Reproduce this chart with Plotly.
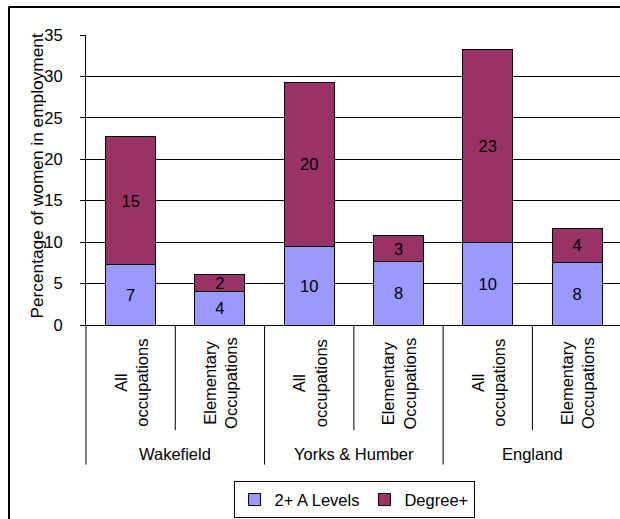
import plotly.graph_objects as go

# ---- data ----
groups = ["Wakefield", "Yorks & Humber", "England"]
occupations = ["All<br>occupations", "Elementary<br>Occupations"]
a_levels = [7.3, 4.1, 9.5, 7.7, 10.0, 7.6]
degree = [15.4, 1.95, 19.8, 3.05, 23.3, 4.05]
series_names = ["2+ A Levels", "Degree+"]
yticks = [0, 5, 10, 15, 20, 25, 30, 35]
y_title = "Percentage of women in employment"

FONT = "Arial, Liberation Sans, sans-serif"
FS = 16.5
BLUE = "#9999FF"
MAROON = "#993366"

n = len(groups) * len(occupations)
xs = list(range(n))
x_range = [-0.5, 5.481]
y_range = [0, 35]

fig = go.Figure()
for vals, name, color in [(a_levels, series_names[0], BLUE),
                          (degree, series_names[1], MAROON)]:
    fig.add_trace(go.Bar(
        x=xs, y=vals, name=name,
        marker=dict(color=color, line=dict(color="#000000", width=1)),
        text=[f"{v:.0f}" for v in vals], textposition="inside",
        insidetextanchor="middle", constraintext="none", textangle=0,
        textfont=dict(family=FONT, size=FS, color="#000000"),
        hoverinfo="skip",
    ))

W, H = 620, 519
L, R, T, B = 86, 0, 35, 189
plot_w = W - L - R
plot_h = H - T - B


def px_to_paper_y(py):
    return (H - B - py) / plot_h


def px_to_paper_x(px):
    return (px - L) / plot_w


def data_to_paper_x(xv):
    return (xv - x_range[0]) / (x_range[1] - x_range[0])


shapes = []
annotations = []

# category dividers below the axis
for i in range(n + 1):
    xb = i - 0.5
    is_group = (i % len(occupations) == 0)
    y_end = px_to_paper_y(472 if is_group else 437)
    shapes.append(dict(type="line", xref="paper", yref="paper",
                       x0=data_to_paper_x(xb), x1=data_to_paper_x(xb),
                       y0=0, y1=y_end,
                       line=dict(color="#000000", width=1)))

# occupation labels
for i in range(n):
    annotations.append(dict(
        x=i, xref="x", y=px_to_paper_y(389), yref="paper",
        text=occupations[i % len(occupations)], textangle=-90,
        showarrow=False, align="center",
        font=dict(family=FONT, size=FS, color="#000000"),
        xanchor="center", yanchor="middle"))

# group labels
for g, name in enumerate(groups):
    xc = g * len(occupations) + (len(occupations) - 1) / 2
    annotations.append(dict(
        x=xc, xref="x", y=px_to_paper_y(461.5), yref="paper",
        text=name, showarrow=False,
        font=dict(family=FONT, size=FS, color="#000000"),
        xanchor="center", yanchor="middle"))

# y axis title
annotations.append(dict(
    x=px_to_paper_x(37), xref="paper", y=px_to_paper_y(179), yref="paper",
    text=y_title, textangle=-90, showarrow=False,
    font=dict(family=FONT, size=17.3, color="#000000"),
    xanchor="center", yanchor="middle"))

# outer chart frame (top and left edges visible)
shapes.append(dict(type="line", xref="paper", yref="paper",
                   x0=px_to_paper_x(9), x1=px_to_paper_x(640),
                   y0=px_to_paper_y(6.5), y1=px_to_paper_y(6.5),
                   line=dict(color="#000000", width=2)))
shapes.append(dict(type="line", xref="paper", yref="paper",
                   x0=px_to_paper_x(9), x1=px_to_paper_x(9),
                   y0=px_to_paper_y(6), y1=px_to_paper_y(540),
                   line=dict(color="#000000", width=2)))

fig.update_layout(
    width=W, height=H,
    margin=dict(l=L, r=R, t=T, b=B, pad=0),
    barmode="stack", bargap=0.44,
    plot_bgcolor="#FFFFFF", paper_bgcolor="#FFFFFF",
    font=dict(family=FONT, size=FS, color="#000000"),
    uniformtext=dict(minsize=FS, mode="show"),
    xaxis=dict(range=x_range, showticklabels=False, ticks="",
               showgrid=False, zeroline=False, showline=True,
               linecolor="#000000", linewidth=1, fixedrange=True),
    yaxis=dict(range=y_range, tickvals=yticks, ticks="outside", ticklen=5,
               tickcolor="#000000", showline=True, linecolor="#000000",
               linewidth=1, showgrid=True, gridcolor="#000000", gridwidth=1,
               zeroline=False, ticklabelstandoff=14,
               tickfont=dict(family=FONT, size=FS, color="#000000")),
    showlegend=True,
    legend=dict(orientation="h", x=0.502, xanchor="center",
                y=px_to_paper_y(489), yanchor="top",
                bordercolor="#000000", borderwidth=1, bgcolor="#FFFFFF",
                font=dict(family=FONT, size=FS, color="#000000"),
                itemwidth=30, traceorder="normal"),
    shapes=shapes, annotations=annotations,
)

fig.write_html("out.html")
